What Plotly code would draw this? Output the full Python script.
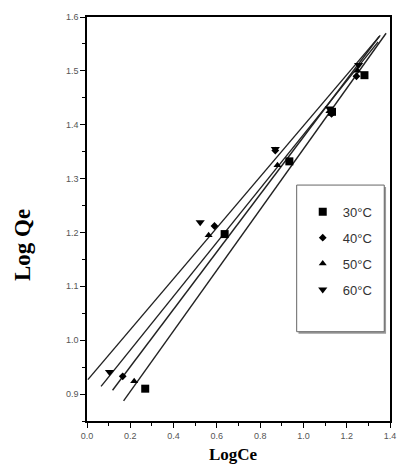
import numpy as np
import plotly.graph_objects as go

# ---- data ----
series_names = ["30°C", "40°C", "50°C", "60°C"]
x_30 = [0.269, 0.636, 0.935, 1.132, 1.282]
y_30 = [0.910, 1.197, 1.332, 1.424, 1.492]
x_40 = [0.165, 0.589, 0.870, 1.130, 1.245]
y_40 = [0.933, 1.212, 1.352, 1.420, 1.490]
x_50 = [0.218, 0.562, 0.880, 1.120, 1.250]
y_50 = [0.924, 1.195, 1.325, 1.425, 1.500]
x_60 = [0.104, 0.523, 0.870, 1.120, 1.255]
y_60 = [0.941, 1.219, 1.355, 1.430, 1.511]
fit_extend = 0.1  # fitted lines drawn beyond the data, as in the original

xs = [x_30, x_40, x_50, x_60]
ys = [y_30, y_40, y_50, y_60]
symbols = ["square", "diamond", "triangle-up", "triangle-down"]
sizes = [8, 6, 7, 8]

fig = go.Figure()

# fitted lines
for x, y in zip(xs, ys):
    slope, icpt = np.polyfit(x, y, 1)
    lx = np.array([min(x) - fit_extend, max(x) + fit_extend])
    fig.add_trace(go.Scatter(x=lx, y=icpt + slope * lx, mode="lines",
                             line=dict(color="#222222", width=1.4),
                             showlegend=False, hoverinfo="skip"))

# markers
for name, x, y, s, sz in zip(series_names, xs, ys, symbols, sizes):
    fig.add_trace(go.Scatter(x=x, y=y, mode="markers", name=name, legendgroup=name,
                             marker=dict(symbol=s, size=sz, color="black")))

# legend box (with shadow)
box = dict(x0=0.692, x1=0.981, y0=0.221, y1=0.584)
fig.add_shape(type="rect", xref="paper", yref="paper",
              x0=box["x0"] + 0.006, x1=box["x1"] + 0.006,
              y0=box["y0"] - 0.005, y1=box["y1"] - 0.005,
              line=dict(width=0), fillcolor="#9a9a9a", layer="above")
fig.add_shape(type="rect", xref="paper", yref="paper", **box,
              line=dict(color="#666666", width=1), fillcolor="white", layer="above")

axis_common = dict(showline=True, linecolor="black", linewidth=1.6, mirror=True,
                   ticks="outside", ticklen=5, tickwidth=1.2, tickcolor="black",
                   showgrid=False, zeroline=False, tickformat=".1f", automargin=False,
                   tickfont=dict(family="Arial, Liberation Sans", size=9, color="#555555"))

fig.update_layout(
    width=399, height=465,
    margin=dict(l=87, r=9, t=17, b=44, autoexpand=False),
    paper_bgcolor="white", plot_bgcolor="white",
    xaxis=dict(range=[0, 1.4], dtick=0.2, tick0=0,
               minor=dict(ticks="outside", ticklen=3, dtick=0.1, tickcolor="black"),
               **axis_common),
    yaxis=dict(range=[0.85, 1.6], dtick=0.1, tick0=0,
               minor=dict(ticks="outside", ticklen=3, dtick=0.05, tickcolor="black"),
               **axis_common),
    showlegend=True,
    legend=dict(x=0.712, y=0.555, xanchor="left", yanchor="top",
                bgcolor="rgba(0,0,0,0)", borderwidth=0, tracegroupgap=6,
                font=dict(family="Arial, Liberation Sans", size=13, color="#333333")),
    annotations=[
        dict(text="<b>Log Qe</b>", xref="paper", yref="paper", x=-0.2145, y=0.4356,
             xanchor="center", yanchor="middle", textangle=-90, showarrow=False,
             font=dict(family="Liberation Serif, Times New Roman", size=23, color="black")),
        dict(text="<b>LogCe</b>", xref="paper", yref="paper", x=0.485, y=-0.0817,
             xanchor="center", yanchor="middle", showarrow=False,
             font=dict(family="Liberation Serif, Times New Roman", size=17, color="black")),
    ],
)

fig.write_html("out.html")
